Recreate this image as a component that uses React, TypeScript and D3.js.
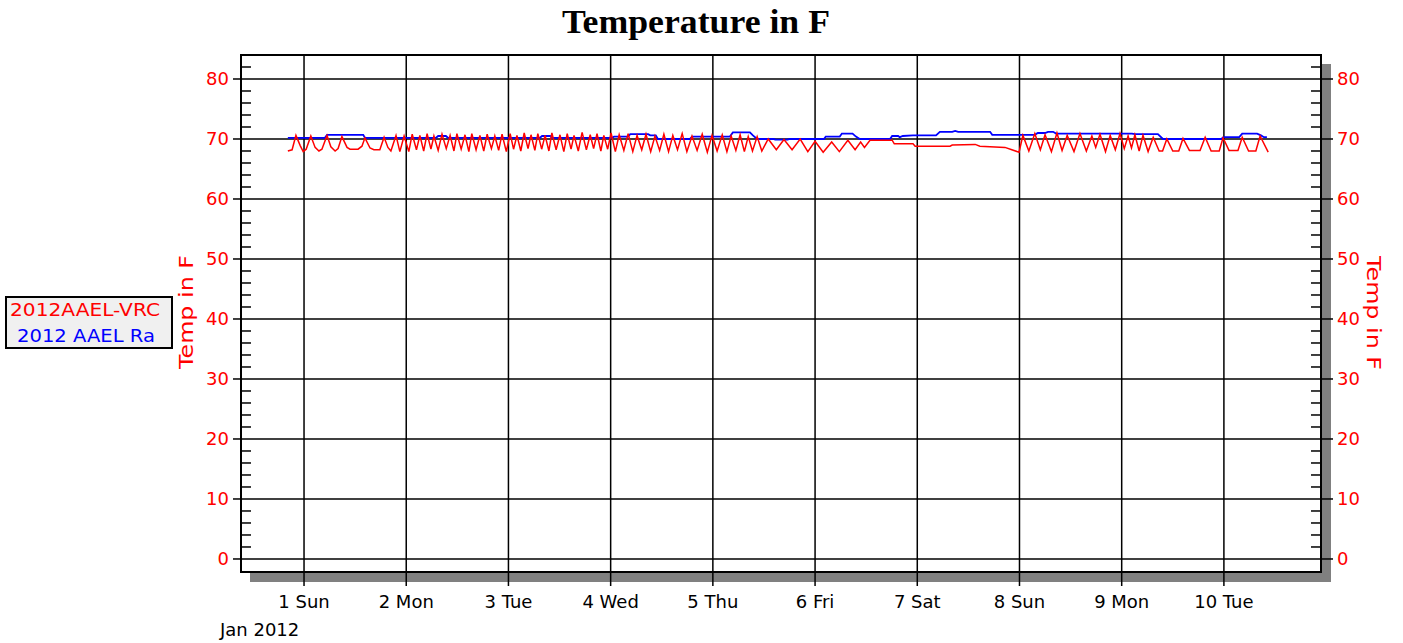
import React from "react";
import * as d3 from "d3";

// ---- data (hours since Jan 1 2012 00:00, temperature in F) ----
const redTimes = [
  -3.8, -2.8, -1.9, -0.9, -0.2, 0.5, 1.6, 2.6, 3.5, 4.2, 5.4, 6.3, 7.3, 8.0, 8.9, 10.1, 10.8, 12.7, 13.6, 14.3, 15.5, 16.4, 17.8, 18.8, 19.7, 20.4, 21.6, 22.5,
  23.5, 24.6, 25.4, 26.4, 27.2, 28.1, 28.9, 29.8, 30.5, 31.5, 32.4, 33.4, 34.3, 35.2, 35.9, 36.9, 37.8, 38.7, 39.4, 40.4,
  41.3, 42.2, 43.0, 44.0, 44.8, 45.7, 46.5, 47.5, 48.4, 49.2, 50.0, 50.9, 51.7, 52.6, 53.3, 54.2, 54.9, 55.8, 56.6, 57.5,
  58.2, 59.2, 60.1, 61.0, 61.8, 62.7, 63.4, 64.4, 65.3, 66.3, 67.2, 68.0, 68.8, 69.7, 70.4, 71.3, 72.1, 73.1, 74.0, 75.1,
  76.1, 77.2, 78.2, 79.3, 80.3, 81.4, 82.4, 83.5, 84.5, 85.6, 86.6, 87.7, 88.8, 89.9, 91.1, 92.3, 93.5, 94.7, 95.8, 97.0,
  98.2, 99.3, 100.3, 101.4, 102.4, 103.4, 104.3, 105.3, 106.4, 107.5,
  109.0, 110.9, 112.7, 114.6, 116.5, 118.3, 120.0, 121.9, 123.9, 125.7, 127.7, 129.4, 130.7, 131.6, 132.9, 138.1,
  138.6, 143.0, 143.5, 151.7, 152.2, 157.6, 158.7, 164.6, 166.2, 167.9,
  168.8, 170.2, 171.6, 172.9, 174.0, 175.5, 176.8, 178.0, 179.2, 180.8, 182.2, 183.7, 185.0, 185.9, 186.9, 188.2,
  189.3, 190.5, 191.6, 192.6, 193.5, 194.3, 195.1, 196.1, 197.0, 198.2, 199.4, 200.8, 201.6, 202.6, 204.0, 205.4,
  206.4, 207.9, 210.4, 211.6, 213.0, 214.9, 215.8, 217.2, 219.3, 220.3, 221.8, 223.5, 224.5, 226.4,
];
const redValues = [
  68.0, 68.2, 70.6, 68.9, 67.9, 68.3, 70.5, 68.6, 68.0, 68.3, 70.6, 68.7, 68.0, 68.4, 70.4, 68.6, 68.3, 68.3, 68.8, 70.2, 68.5, 68.2, 68.2, 70.3, 68.6, 68.0, 70.6, 67.9,
  70.5, 67.9, 70.8, 68.2, 70.6, 68.0, 70.9, 68.3, 70.5, 68.1, 70.8, 68.4, 70.6, 68.0, 70.9, 68.3, 70.7, 67.9, 70.9, 68.2,
  70.6, 68.0, 70.8, 68.4, 70.5, 68.1, 70.8, 67.9, 70.9, 68.3, 70.6, 68.0, 71.0, 68.4, 70.7, 68.1, 70.9, 68.3, 70.6, 68.0,
  71.0, 68.2, 70.7, 67.9, 70.9, 68.3, 70.6, 68.0, 71.1, 68.2, 70.7, 68.4, 70.9, 68.0, 70.6, 68.3, 71.0, 67.9, 70.7, 68.1,
  70.9, 67.9, 70.6, 68.2, 70.8, 67.9, 70.5, 68.1, 70.8, 67.9, 70.6, 68.2, 70.9, 67.9, 70.5, 68.1, 70.8, 67.8, 70.6, 68.0,
  70.7, 67.9, 70.5, 68.1, 70.7, 67.9, 70.4, 68.0, 70.4, 68.0,
  70.0, 68.2, 69.9, 68.2, 70.0, 67.9, 69.6, 67.8, 69.5, 67.9, 69.8, 68.2, 69.5, 68.6, 69.8, 69.8,
  69.2, 69.2, 68.8, 68.8, 69.0, 69.1, 68.8, 68.6, 68.2, 67.8,
  70.6, 68.0, 70.9, 68.2, 70.7, 67.9, 71.0, 68.1, 70.6, 67.9, 70.9, 68.0, 70.5, 68.6, 70.8, 67.9,
  70.6, 68.2, 70.9, 68.4, 70.5, 68.5, 70.7, 68.0, 70.6, 67.9, 70.3, 68.0, 68.0, 70.0, 68.0, 68.0,
  70.1, 68.1, 68.1, 70.3, 68.0, 68.0, 70.2, 68.1, 68.1, 70.3, 68.0, 68.0, 70.5, 67.8,
];

const blueTimes = [
  -3.8, 4.9, 5.4, 13.9, 14.3, 31.0, 31.5, 33.3, 33.8, 55.4, 55.9, 57.8, 58.2, 72.3, 72.8, 76.1, 76.6, 80.8, 81.3, 82.6,
  83.1, 90.6, 91.1, 100.0, 100.7, 104.7, 105.4, 106.4, 110.4, 110.6, 113.6, 113.9, 122.1, 122.5, 125.8, 126.3, 128.8,
  129.6, 130.5, 137.6, 138.1, 139.5, 139.9, 140.6, 143.0, 148.4, 149.3, 152.2, 152.9, 153.6, 161.1, 161.6, 171.6, 172.3,
  174.0, 174.7, 175.9, 176.6, 194.4, 195.1, 200.5, 201.7, 215.3, 216.0, 219.6, 220.3, 223.8, 224.7, 225.4, 226.1,
];
const blueValues = [
  70.2, 70.2, 70.7, 70.7, 70.2, 70.2, 70.5, 70.5, 70.2, 70.2, 70.5, 70.5, 70.2, 70.2, 70.4, 70.4, 70.8, 70.8, 70.6, 70.6,
  70.0, 70.0, 70.4, 70.4, 71.1, 71.1, 70.6, 70.0, 70.0, 69.9, 69.9, 70.0, 70.0, 70.4, 70.4, 70.9, 70.9,
  70.4, 70.0, 70.0, 70.5, 70.5, 70.3, 70.5, 70.6, 70.6, 71.2, 71.2, 71.35, 71.2, 71.2, 70.7, 70.7, 71.0,
  71.0, 71.2, 71.2, 70.9, 70.9, 70.8, 70.8, 70.0, 70.0, 70.3, 70.3, 70.9, 70.9, 70.6, 70.3, 70.3,
];

const yTicks = [0, 10, 20, 30, 40, 50, 60, 70, 80];
const yMinorTicks = [2, 4, 6, 8, 12, 14, 16, 18, 22, 24, 26, 28, 32, 34, 36, 38, 42, 44, 46, 48, 52, 54, 56, 58, 62, 64, 66, 68, 72, 74, 76, 78, 82];
const xTickHours = [0, 24, 48, 72, 96, 120, 144, 168, 192, 216];
const xTickLabels = ["1 Sun", "2 Mon", "3 Tue", "4 Wed", "5 Thu", "6 Fri", "7 Sat", "8 Sun", "9 Mon", "10 Tue"];
const seriesNames = ["2012AAEL-VRC", "2012 AAEL Ra"];
const seriesColors = ["#ff0000", "#0000ff"];

const W = 1403;
const H = 643;
const L = 241, R = 1321, T = 55, B = 572;

export default function App() {
  const x = d3.scaleLinear().domain([-14.8, 238.8]).range([L, R]);
  const y = d3.scaleLinear().domain([-2.17, 84]).range([B, T]);

  const line = d3
    .line<[number, number]>()
    .x((d) => x(d[0]))
    .y((d) => y(d[1]));

  const redPts: [number, number][] = redTimes.map((t, i) => [t, redValues[i]]);
  const bluePts: [number, number][] = blueTimes.map((t, i) => [t, blueValues[i]]);

  const font = "'DejaVu Sans', sans-serif";
  const shadow = 9;

  return (
    <svg
      width={W}
      height={H}
      style={{ position: "absolute", left: 0, top: 0, background: "#fff" }}
    >
      {/* shadow */}
      <rect x={R + 1} y={T + shadow} width={shadow} height={B - T} fill="#808080" />
      <rect x={L + shadow} y={B + 1} width={R - L + 1} height={shadow} fill="#808080" />
      <rect x={L} y={T} width={R - L} height={B - T} fill="#fff" />

      {/* grid */}
      {yTicks.map((v) => (
        <line key={"gy" + v} x1={L} x2={R} y1={y(v)} y2={y(v)} stroke="#000" strokeWidth={1.5} />
      ))}
      {xTickHours.map((h) => (
        <line key={"gx" + h} x1={x(h)} x2={x(h)} y1={T} y2={B + 14} stroke="#000" strokeWidth={1.5} />
      ))}

      {/* series */}
      <path d={line(bluePts) || ""} fill="none" stroke={seriesColors[1]} strokeWidth={1.8} />
      <path d={line(redPts) || ""} fill="none" stroke={seriesColors[0]} strokeWidth={1.5} />

      {/* frame */}
      <rect x={L} y={T} width={R - L} height={B - T} fill="none" stroke="#000" strokeWidth={2} />

      {/* y ticks left & right */}
      {yMinorTicks.map((v) => (
        <g key={"m" + v}>
          <line x1={L} x2={L + 10} y1={y(v)} y2={y(v)} stroke="#000" strokeWidth={1.5} />
          <line x1={R - 10} x2={R} y1={y(v)} y2={y(v)} stroke="#000" strokeWidth={1.5} />
        </g>
      ))}
      {yTicks.map((v) => (
        <g key={"t" + v}>
          <line x1={L - 8} x2={L} y1={y(v)} y2={y(v)} stroke="#000" strokeWidth={1.5} />
          <line x1={R} x2={R + 12} y1={y(v)} y2={y(v)} stroke="#000" strokeWidth={1.5} />
          <text x={L - 12} y={y(v) + 6.5} textAnchor="end" fill="#ff0000" fontFamily={font} fontSize={18}>
            {v}
          </text>
          <text x={R + 16} y={y(v) + 6.5} textAnchor="start" fill="#ff0000" fontFamily={font} fontSize={18}>
            {v}
          </text>
        </g>
      ))}

      {/* x labels */}
      {xTickHours.map((h, i) => (
        <text key={"xl" + h} x={x(h)} y={608} textAnchor="middle" fill="#000" fontFamily={font} fontSize={18}>
          {xTickLabels[i]}
        </text>
      ))}
      <text x={220} y={636} fill="#000" fontFamily={font} fontSize={18}>
        Jan 2012
      </text>

      {/* axis titles */}
      <text
        transform={`translate(193,312) rotate(-90)`}
        textAnchor="middle"
        fill="#ff0000"
        fontFamily={font}
        fontSize={20}
        textLength={114}
        lengthAdjust="spacingAndGlyphs"
      >
        Temp in F
      </text>
      <text
        transform={`translate(1367,313) rotate(90)`}
        textAnchor="middle"
        fill="#ff0000"
        fontFamily={font}
        fontSize={20}
        textLength={114}
        lengthAdjust="spacingAndGlyphs"
      >
        Temp in F
      </text>

      {/* title */}
      <text
        x={696}
        y={33}
        textAnchor="middle"
        fontFamily="'Liberation Serif', 'Times New Roman', serif"
        fontWeight="bold"
        fontSize={34}
        textLength={268}
        lengthAdjust="spacingAndGlyphs"
        fill="#000"
      >
        Temperature in F
      </text>

      {/* legend */}
      <rect x={6} y={297} width={166} height={51} fill="#f0f0f0" stroke="#000" strokeWidth={2} />
      {seriesNames.map((n, i) => (
        <text
          key={n}
          x={i === 0 ? 85 : 86}
          y={316 + i * 26}
          textAnchor="middle"
          fill={seriesColors[i]}
          fontFamily={font}
          fontSize={18}
          textLength={i === 0 ? 150 : 138}
          lengthAdjust="spacingAndGlyphs"
        >
          {n}
        </text>
      ))}
    </svg>
  );
}
